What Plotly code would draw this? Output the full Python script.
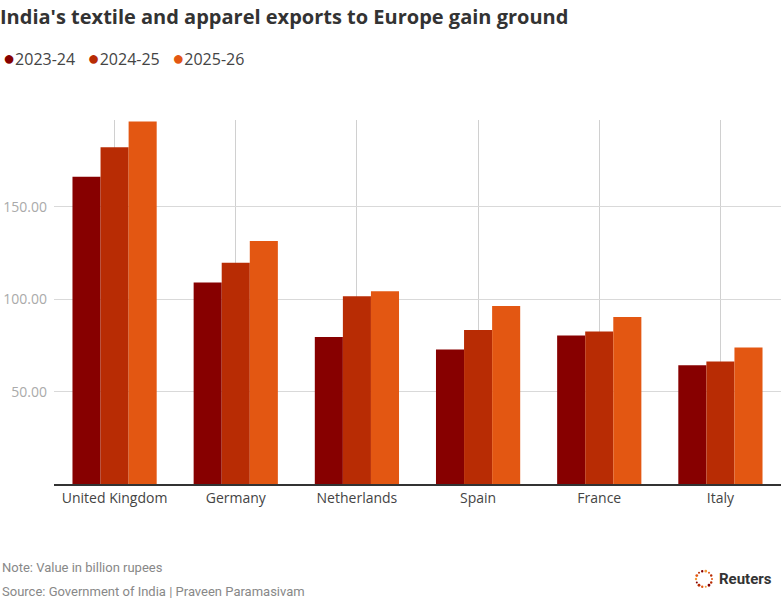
import math
import plotly.graph_objects as go

countries = ["United Kingdom", "Germany", "Netherlands", "Spain", "France", "Italy"]
fy2023_24 = [166.3, 109.0, 79.6, 72.8, 80.4, 64.3]
fy2024_25 = [182.3, 119.8, 101.6, 83.4, 82.5, 66.3]
fy2025_26 = [196.2, 131.5, 104.3, 96.4, 90.4, 73.9]
series_names = ["2023-24", "2024-25", "2025-26"]
series_colors = ["#870000", "#B82C04", "#E35712"]
y_tick_values = [50, 100, 150]

W, H = 781, 600
ML, MR, MT, MB = 54, 0, 120, 116
PW, PH = W - ML - MR, H - MT - MB


def px_x(px):
    return (px - ML) / PW


def px_y(py):
    return (H - MB - py) / PH


fig = go.Figure()
for name, vals, col in zip(series_names, [fy2023_24, fy2024_25, fy2025_26], series_colors):
    fig.add_trace(go.Bar(x=countries, y=vals, name=name, marker=dict(color=col, line=dict(width=0)),
                         showlegend=False))

fig.update_layout(
    width=W, height=H,
    margin=dict(l=ML, r=MR, t=MT, b=MB),
    paper_bgcolor="white", plot_bgcolor="white",
    barmode="group", bargap=0.305, bargroupgap=0,
    font=dict(family="Open Sans", color="#444"),
    title=dict(text="<b>India's textile and apparel exports to Europe gain ground</b>",
               x=0, xref="container", xanchor="left", y=1 - 17 / H, yref="container", yanchor="middle",
               font=dict(family="Open Sans", size=20, color="#333")),
    xaxis=dict(showgrid=True, gridcolor="#d0d0d0", gridwidth=1, showline=True, linecolor="#333",
               linewidth=1.5, ticks="", tickfont=dict(family="Open Sans", size=14, color="#444"),
               fixedrange=True),
    yaxis=dict(range=[0, 197], tickvals=y_tick_values, tickformat=".2f", showgrid=True,
               gridcolor="#d9d9d9", gridwidth=1, zeroline=False, showline=False, ticks="",
               ticklabelstandoff=6, tickfont=dict(family="Open Sans", size=14, color="#aaa"),
               fixedrange=True),
)

legend_html = "&nbsp;&nbsp;&nbsp;".join(
    f"<span style='color:{c};font-size:20px'>●</span>{n}" for n, c in zip(series_names, series_colors))
ann = [
    dict(text=legend_html, x=px_x(1), y=px_y(58), xanchor="left", yanchor="middle",
         font=dict(family="Open Sans", size=16, color="#444")),
    dict(text="Note: Value in billion rupees", x=px_x(0), y=px_y(567), xanchor="left", yanchor="middle",
         font=dict(family="Roboto", size=13, color="#888")),
    dict(text="Source: Government of India | Praveen Paramasivam", x=px_x(0), y=px_y(591),
         xanchor="left", yanchor="middle",
         font=dict(family="Roboto", size=13, color="#888")),
    dict(text="<b>Reuters</b>", x=px_x(717), y=px_y(579), xanchor="left", yanchor="middle",
         font=dict(family="Roboto", size=15, color="#333")),
]
for a in ann:
    a.update(xref="paper", yref="paper", showarrow=False, align="left")
fig.update_layout(annotations=ann)

# Reuters logo ring of dots (decoration)
cx, cy, r = 704, 579, 8
dot_cols = ["#E35712", "#B82C04", "#870000", "#F39A3B"]
shapes = []
for i in range(14):
    ang = 2 * math.pi * i / 14
    x = cx + r * math.cos(ang)
    y = cy + r * math.sin(ang)
    s = 1.0 + 0.4 * (i % 3) / 2
    shapes.append(dict(type="circle", xref="paper", yref="paper",
                       x0=px_x(x - s), x1=px_x(x + s), y0=px_y(y + s), y1=px_y(y - s),
                       fillcolor=dot_cols[i % 4], line=dict(width=0)))
fig.update_layout(shapes=shapes)

fig.write_html("out.html", config={"displayModeBar": False},
               post_script="document.body.style.margin='0';document.body.style.overflow='hidden';")
